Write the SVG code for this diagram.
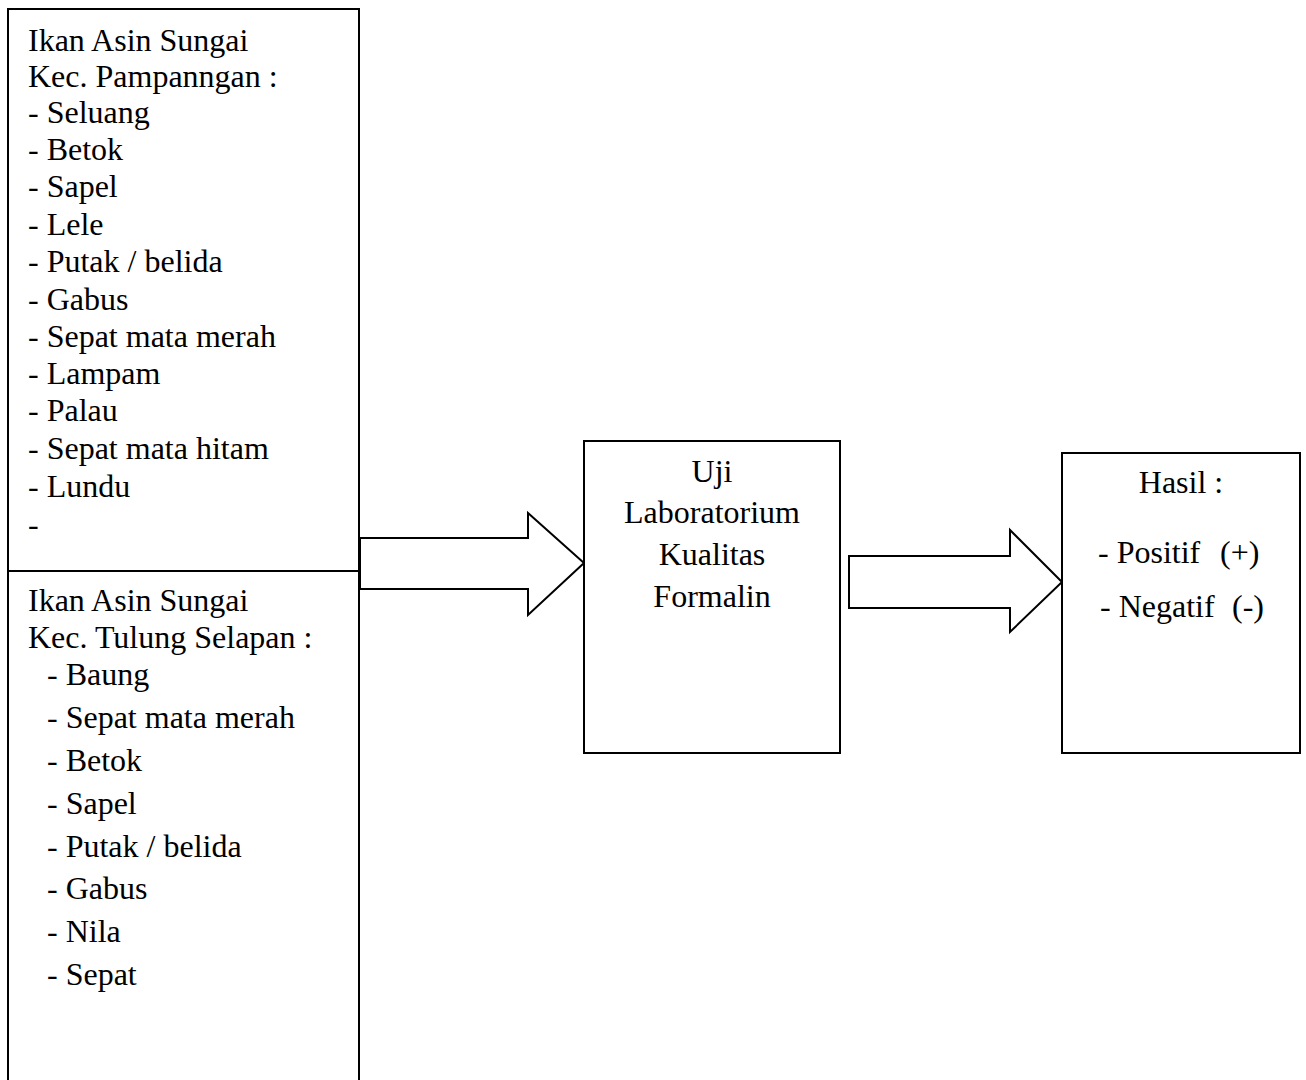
<svg xmlns="http://www.w3.org/2000/svg" width="1306" height="1080" viewBox="0 0 1306 1080">
<style>
.b{fill:#fff;stroke:#000;stroke-width:2}
.t{font-family:"Liberation Serif","Times New Roman",serif;font-size:32px;fill:#000}
.c{text-anchor:middle}
.a{fill:#fff;stroke:#000;stroke-width:2;stroke-linejoin:miter}
</style>
<rect width="1306" height="1080" fill="#fff"/>
<g id="connectors">
<polygon class="a" points="360,538 528,538 528,513 584,563 528,615 528,589 360,589"/>
<polygon class="a" points="849,556 1010,556 1010,530 1062,582 1010,632 1010,608 849,608"/>
</g>
<g id="node-sources">
<rect class="b" x="8" y="9" width="351" height="1090"/>
<line x1="8" y1="571" x2="359" y2="571" stroke="#000" stroke-width="2"/>
<g id="node-pampangan" class="t">
<text x="28" y="51">Ikan Asin Sungai</text>
<text x="28" y="87">Kec. Pampanngan :</text>
<text x="28" y="123">- Seluang</text>
<text x="28" y="160">- Betok</text>
<text x="28" y="197">- Sapel</text>
<text x="28" y="235">- Lele</text>
<text x="28" y="272">- Putak / belida</text>
<text x="28" y="310">- Gabus</text>
<text x="28" y="347">- Sepat mata merah</text>
<text x="28" y="384">- Lampam</text>
<text x="28" y="421">- Palau</text>
<text x="28" y="459">- Sepat mata hitam</text>
<text x="28" y="497">- Lundu</text>
<text x="28" y="535">-</text>
</g>
<g id="node-tulung" class="t">
<text x="28" y="611">Ikan Asin Sungai</text>
<text x="28" y="648">Kec. Tulung Selapan :</text>
<text x="47" y="685">- Baung</text>
<text x="47" y="728">- Sepat mata merah</text>
<text x="47" y="771">- Betok</text>
<text x="47" y="814">- Sapel</text>
<text x="47" y="857">- Putak / belida</text>
<text x="47" y="899">- Gabus</text>
<text x="47" y="942">- Nila</text>
<text x="47" y="985">- Sepat</text>
</g>
</g>
<g id="node-uji">
<rect class="b" x="584" y="441" width="256" height="312"/>
<g class="t c">
<text x="712" y="482">Uji</text>
<text x="712" y="523">Laboratorium</text>
<text x="712" y="565">Kualitas</text>
<text x="712" y="607">Formalin</text>
</g>
</g>
<g id="node-hasil">
<rect class="b" x="1062" y="453" width="238" height="300"/>
<g class="t">
<text x="1181" y="493" text-anchor="middle">Hasil :</text>
<text x="1098" y="563">- Positif</text>
<text x="1220" y="563">(+)</text>
<text x="1100" y="617">- Negatif</text>
<text x="1232" y="617">(-)</text>
</g>
</g>
</svg>
